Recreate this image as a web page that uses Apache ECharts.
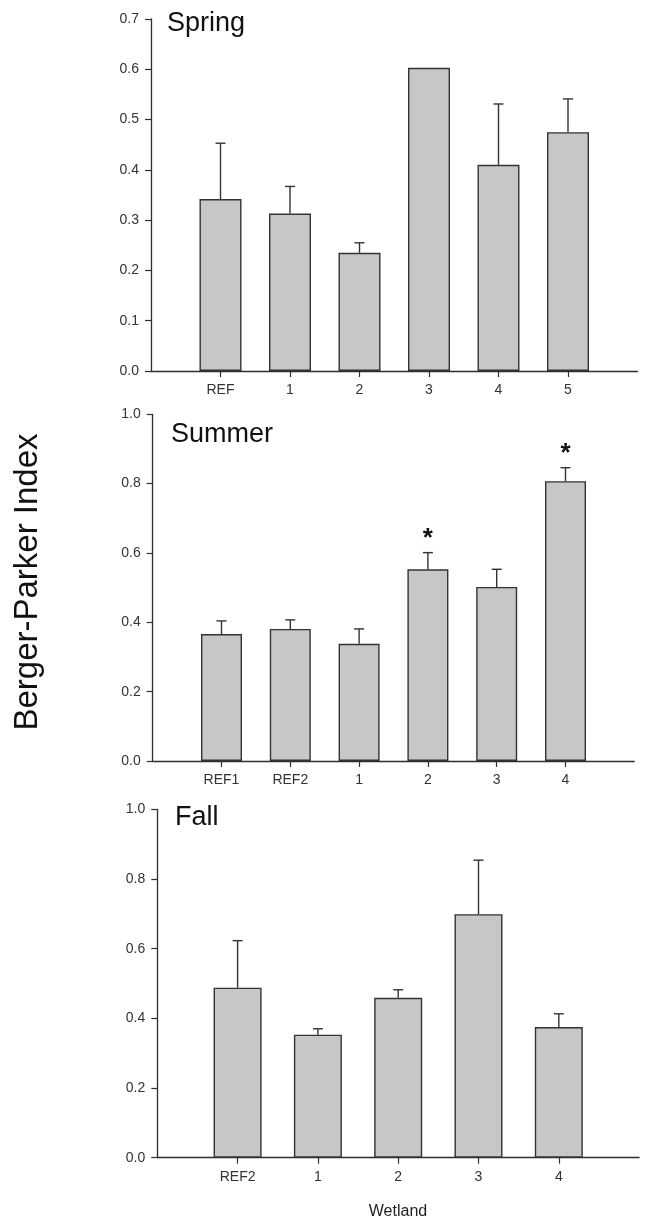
<!DOCTYPE html>
<html>
<head>
<meta charset="utf-8">
<script src="https://cdn.jsdelivr.net/npm/echarts@6/dist/echarts.min.js"></script>
<style>
html,body{margin:0;padding:0;background:#fff;}
#chart{width:649px;height:1221px;}
</style>
</head>
<body>
<div id="chart"></div>
<script>
// ---- Data ----
const springCats = ['REF', '1', '2', '3', '4', '5'];
const springMean = [0.342, 0.313, 0.235, 0.603, 0.410, 0.475];
const springErr  = [0.111, 0.054, 0.020, 0, 0.121, 0.066];
const springSig  = [0, 0, 0, 0, 0, 0];

const summerCats = ['REF1', 'REF2', '1', '2', '3', '4'];
const summerMean = [0.366, 0.381, 0.338, 0.553, 0.502, 0.807];
const summerErr  = [0.038, 0.026, 0.043, 0.048, 0.051, 0.039];
const summerSig  = [0, 0, 0, 1, 0, 1];

const fallCats = ['REF2', '1', '2', '3', '4'];
const fallMean = [0.488, 0.353, 0.459, 0.699, 0.375];
const fallErr  = [0.135, 0.017, 0.023, 0.155, 0.038];
const fallSig  = [0, 0, 0, 0, 0];

const seasonNames = ['Spring', 'Summer', 'Fall'];
const yTitle = 'Berger-Parker Index';
const xTitle = 'Wetland';

// ---- Layout / style ----
const FONT = 'Arial, "Liberation Sans", sans-serif';
const AXIS_COLOR = '#2e2e2e';
const TEXT_COLOR = '#333';
const BAR_FILL = '#c8c7c5';
const BAR_BORDER = '#333';

const panels = [
  {cats: springCats, mean: springMean, err: springErr, sig: springSig, max: 0.7, step: 0.1,
   grid: {left: 151, top: 19, width: 486.5, height: 352}, barWidth: 42},
  {cats: summerCats, mean: summerMean, err: summerErr, sig: summerSig, max: 1.0, step: 0.2,
   grid: {left: 152.7, top: 414.3, width: 481.6, height: 346.7}, barWidth: 41},
  {cats: fallCats, mean: fallMean, err: fallErr, sig: fallSig, max: 1.0, step: 0.2,
   grid: {left: 157.3, top: 809.3, width: 481.8, height: 348.4}, barWidth: 48}
];
const titlePos = [{left: 167, top: 10}, {left: 171, top: 421}, {left: 175, top: 804}];

const grids = [], xAxes = [], yAxes = [], series = [];
panels.forEach((p, i) => {
  grids.push(p.grid);
  const padded = [''].concat(p.cats, ['']);
  xAxes.push({
    type: 'category', gridIndex: i, data: padded, boundaryGap: false,
    axisLine: {lineStyle: {color: AXIS_COLOR, width: 1.3}},
    axisTick: {length: 6, lineStyle: {color: AXIS_COLOR, width: 1.2},
               interval: (idx, v) => v !== ''},
    axisLabel: {interval: 0, margin: 12, color: TEXT_COLOR, fontSize: 14, fontFamily: FONT},
    splitLine: {show: false}
  });
  yAxes.push({
    type: 'value', gridIndex: i, min: 0, max: p.max, interval: p.step,
    axisLine: {show: true, lineStyle: {color: AXIS_COLOR, width: 1.3}},
    axisTick: {show: true, length: 6, lineStyle: {color: AXIS_COLOR, width: 1.2}},
    axisLabel: {margin: 12, color: TEXT_COLOR, fontSize: 14, fontFamily: FONT,
                formatter: v => v.toFixed(1)},
    splitLine: {show: false}
  });
  series.push({
    type: 'bar', xAxisIndex: i, yAxisIndex: i, barWidth: p.barWidth,
    data: [null].concat(p.mean, [null]),
    itemStyle: {color: BAR_FILL, borderColor: BAR_BORDER, borderWidth: 1.4},
    silent: true, animation: false, z: 2
  });
  series.push({
    type: 'custom', xAxisIndex: i, yAxisIndex: i,
    data: p.mean.map((m, k) => [k + 1, m, p.err[k], p.sig[k]]),
    encode: {x: 0, y: 1},
    renderItem: (params, api) => {
      const x = api.value(0), m = api.value(1), e = api.value(2), s = api.value(3);
      const base = api.coord([x, m]);
      const top = api.coord([x, m + e]);
      const children = [];
      const st = {stroke: '#333', lineWidth: 1.4};
      if (e > 0) {
        children.push({type: 'line', shape: {x1: base[0], y1: base[1], x2: top[0], y2: top[1]}, style: st});
        children.push({type: 'line', shape: {x1: top[0] - 5, y1: top[1], x2: top[0] + 5, y2: top[1]}, style: st});
      }
      if (s) {
        children.push({type: 'text', x: top[0], y: top[1] - 14,
          style: {text: '*', font: 'bold 26px ' + FONT, fill: '#111', align: 'center', verticalAlign: 'middle'}});
      }
      return {type: 'group', children};
    },
    silent: true, animation: false, z: 3
  });
});

const chart = echarts.init(document.getElementById('chart'), null, {renderer: 'canvas'});
chart.setOption({
  backgroundColor: '#fff',
  animation: false,
  title: seasonNames.map((t, i) => ({
    text: t, left: titlePos[i].left, top: titlePos[i].top, padding: 0,
    textStyle: {fontSize: 27, fontWeight: 'normal', color: '#111', fontFamily: FONT}
  })),
  grid: grids,
  xAxis: xAxes,
  yAxis: yAxes,
  series: series,
  graphic: [
    {type: 'text', x: 28, y: 582, rotation: Math.PI / 2,
     style: {text: yTitle, font: '33px ' + FONT, fill: '#111', align: 'center', verticalAlign: 'middle'}},
    {type: 'text', x: 398, y: 1212,
     style: {text: xTitle, font: '16px ' + FONT, fill: '#222', align: 'center', verticalAlign: 'middle'}}
  ]
});
</script>
</body>
</html>
